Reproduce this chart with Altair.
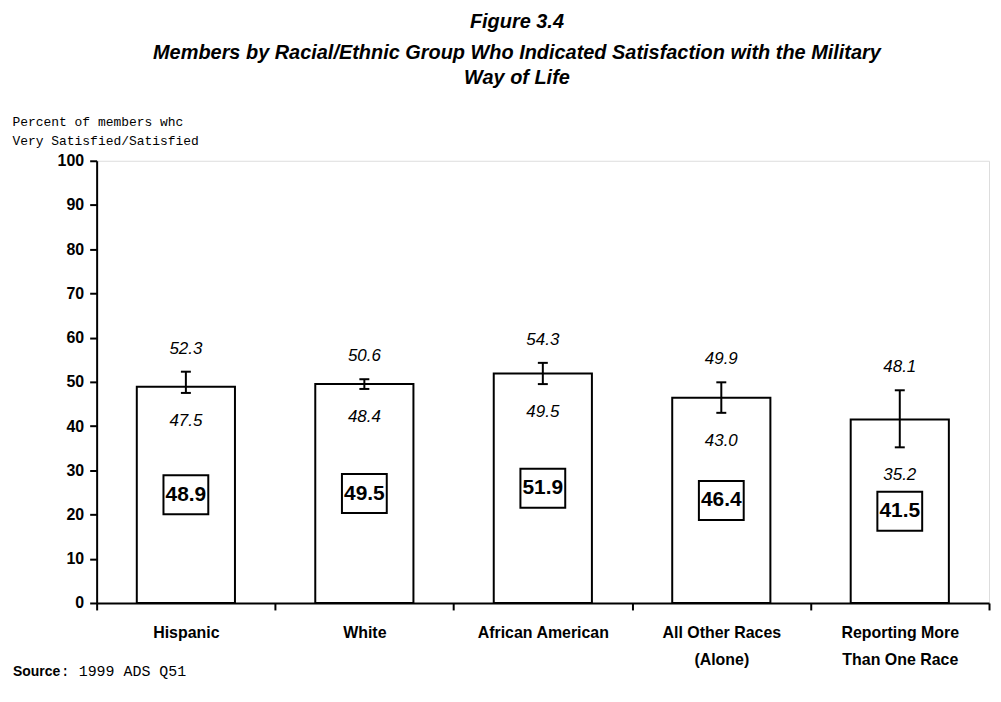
import altair as alt
import pandas as pd

categories = ["Hispanic", "White", "African American", "All Other Races|(Alone)", "Reporting More|Than One Race"]
values = [48.9, 49.5, 51.9, 46.4, 41.5]
lower = [47.5, 48.4, 49.5, 43.0, 35.2]
upper = [52.3, 50.6, 54.3, 49.9, 48.1]

y_title = ["Percent of members whc", "Very Satisfied/Satisfied"]
title_lines = ["Figure 3.4",
               "Members by Racial/Ethnic Group Who Indicated Satisfaction with the Military",
               "Way of Life"]
source_label = "Source"
source_text = ": 1999 ADS Q51"

FONT = "Liberation Sans"
MONO = "Liberation Mono"

df = pd.DataFrame({"cat": categories, "value": values, "lower": lower, "upper": upper})

base = alt.Chart(df).transform_calculate(mid="datum.value / 2")

x = alt.X("cat:N", sort=categories,
          scale=alt.Scale(paddingInner=0, paddingOuter=0),
          axis=alt.Axis(title=None, labelAngle=0, labelExpr="split(datum.label, '|')",
                        labelFont=FONT, labelFontWeight="bold", labelFontSize=16,
                        labelColor="black", labelPadding=15, labelLineHeight=27,
                        tickBand="extent", tickSize=7, tickColor="black", tickWidth=2,
                        domainColor="black", domainWidth=2))

y_axis = alt.Axis(values=list(range(0, 101, 10)), title=y_title, titleFont=MONO,
                  titleFontWeight="normal", titleFontSize=13, titleColor="black",
                  titleAngle=0, titleAlign="left", titleBaseline="top",
                  titleX=-85, titleY=-45, titleLineHeight=19,
                  labelFont=FONT, labelFontWeight="bold", labelFontSize=16,
                  labelColor="black", labelPadding=6, tickSize=7, tickColor="black",
                  tickWidth=2, domainColor="black", domainWidth=2, grid=False)

yscale = alt.Scale(domain=[0, 100])

bars = base.mark_bar(fill="white", stroke="black", strokeWidth=2,
                     width=alt.RelativeBandSize(0.55)).encode(
    x=x, y=alt.Y("value:Q", scale=yscale, axis=y_axis))

err = base.mark_rule(color="black", strokeWidth=2).encode(
    x=x, y=alt.Y("lower:Q", scale=yscale), y2="upper:Q")
cap_hi = base.mark_tick(color="black", thickness=2, size=10, opacity=1).encode(
    x=x, y=alt.Y("upper:Q", scale=yscale))
cap_lo = base.mark_tick(color="black", thickness=2, size=10, opacity=1).encode(
    x=x, y=alt.Y("lower:Q", scale=yscale))

txt_hi = base.mark_text(font=FONT, fontStyle="italic", fontSize=17, dy=-23, color="black").encode(
    x=x, y=alt.Y("upper:Q", scale=yscale), text=alt.Text("upper:Q", format=".1f"))
txt_lo = base.mark_text(font=FONT, fontStyle="italic", fontSize=17, dy=28, color="black").encode(
    x=x, y=alt.Y("lower:Q", scale=yscale), text=alt.Text("lower:Q", format=".1f"))

box = base.mark_point(shape="M-1,-0.87H1V0.87H-1Z", size=2025, filled=False,
                      stroke="black", strokeWidth=2, opacity=1).encode(
    x=x, y=alt.Y("mid:Q", scale=yscale))
txt_val = base.mark_text(font=FONT, fontWeight="bold", fontSize=21, color="black").encode(
    x=x, y=alt.Y("mid:Q", scale=yscale), text=alt.Text("value:Q", format=".1f"))

src1 = alt.Chart(pd.DataFrame({"t": [source_label]})).mark_text(
    font=FONT, fontWeight="bold", fontSize=14, align="left", baseline="middle", color="black"
).encode(x=alt.value(-84), y=alt.value(513), text="t:N")
src2 = alt.Chart(pd.DataFrame({"t": [source_text]})).mark_text(
    font=MONO, fontSize=15, align="left", baseline="middle", color="black"
).encode(x=alt.value(-36), y=alt.value(512), text="t:N")

chart = alt.layer(bars, err, cap_hi, cap_lo, txt_hi, txt_lo, box, txt_val, src1, src2).properties(
    width=896, height=444,
    padding={"left": 89, "top": 152, "right": 4, "bottom": 90},
    autosize=alt.AutoSizeParams(type="none"),
    title=alt.TitleParams(text=title_lines[0], subtitle=title_lines[1:],
                          font=FONT, fontSize=20, fontWeight="bold", fontStyle="italic",
                          color="black",
                          subtitleFont=FONT, subtitleFontSize=20, subtitleFontWeight="bold",
                          subtitleFontStyle="italic", subtitleColor="black",
                          subtitleLineHeight=25, subtitlePadding=11,
                          anchor="middle", frame="group", dx=-26, offset=28),
).configure_view(stroke=None).configure(background="white")

chart.save("out.html", embed_options={"renderer": "svg", "actions": False})
